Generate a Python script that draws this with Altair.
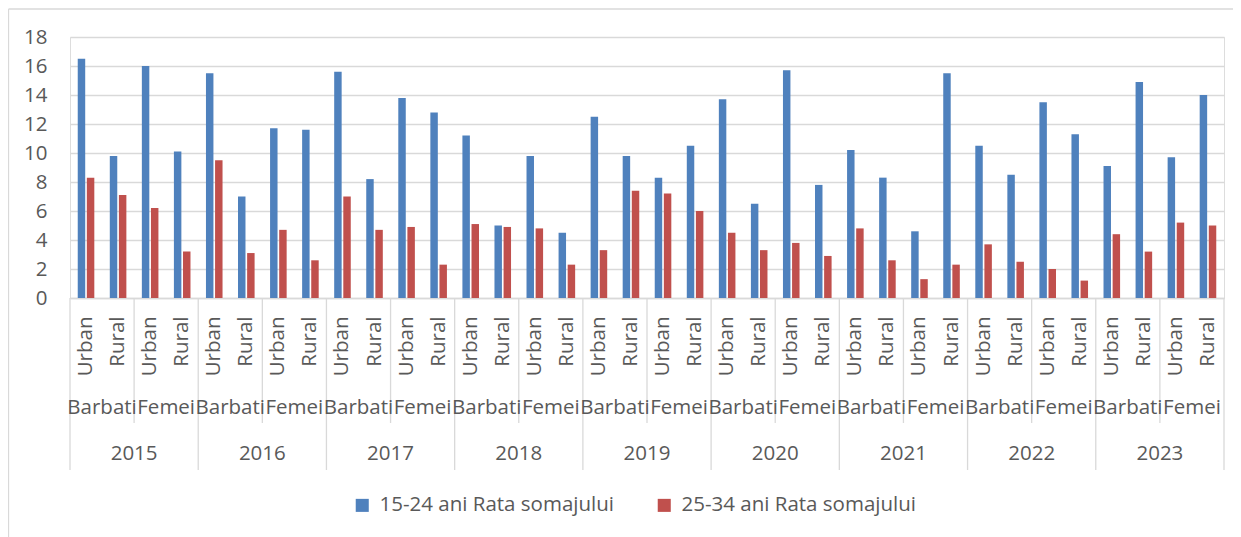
import altair as alt
import pandas as pd

years = ["2015", "2016", "2017", "2018", "2019", "2020", "2021", "2022", "2023"]
genders = ["Barbati", "Femei"]
areas = ["Urban", "Rural"]
series_names = ["15-24 ani Rata somajului", "25-34 ani Rata somajului"]

# order: year -> gender -> area
rate_15_24 = [
    16.5, 9.8, 16.0, 10.1,
    15.5, 7.0, 11.7, 11.6,
    15.6, 8.2, 13.8, 12.8,
    11.2, 5.0, 9.8, 4.5,
    12.5, 9.8, 8.3, 10.5,
    13.7, 6.5, 15.7, 7.8,
    10.2, 8.3, 4.6, 15.5,
    10.5, 8.5, 13.5, 11.3,
    9.1, 14.9, 9.7, 14.0,
]
rate_25_34 = [
    8.3, 7.1, 6.2, 3.2,
    9.5, 3.1, 4.7, 2.6,
    7.0, 4.7, 4.9, 2.3,
    5.1, 4.9, 4.8, 2.3,
    3.3, 7.4, 7.2, 6.0,
    4.5, 3.3, 3.8, 2.9,
    4.8, 2.6, 1.3, 2.3,
    3.7, 2.5, 2.0, 1.2,
    4.4, 3.2, 5.2, 5.0,
]

keys = []
for y in years:
    for g in genders:
        for a in areas:
            keys.append(f"{y}|{g}|{a}")

rows = []
for i, k in enumerate(keys):
    rows.append({"key": k, "serie": series_names[0], "val": rate_15_24[i]})
    rows.append({"key": k, "serie": series_names[1], "val": rate_25_34[i]})
df = pd.DataFrame(rows)

gender_df = pd.DataFrame([{"key": f"{y}|{g}|Urban", "txt": g} for y in years for g in genders])
year_df = pd.DataFrame([{"key": f"{y}|Barbati|Rural", "txt": y} for y in years])
gsep_df = pd.DataFrame([{"key": f"{y}|Femei|Urban"} for y in years])
ysep_df = pd.DataFrame([{"key": f"{y}|Barbati|Urban"} for y in years])
yend_df = pd.DataFrame([{"key": f"{years[-1]}|Femei|Rural"}])

FONT = "Open Sans"
TXT = "#595959"
GRID = "#d9d9d9"
FS = 20.5

xscale = alt.Scale(domain=keys, paddingInner=0, paddingOuter=0)

bars = alt.Chart(df).mark_bar().encode(
    x=alt.X("key:N", scale=xscale, sort=keys, title=None,
            axis=alt.Axis(labelAngle=270, labelExpr="split(datum.label, '|')[2]",
                          ticks=False, labelPadding=18, domainColor=GRID, domainWidth=1.3,
                          labelFontSize=FS, labelColor=TXT, labelFont=FONT, grid=False)),
    xOffset=alt.XOffset("serie:N", sort=series_names,
                        scale=alt.Scale(paddingInner=0.18, paddingOuter=0.85)),
    y=alt.Y("val:Q", scale=alt.Scale(domain=[0, 18]), title=None,
            axis=alt.Axis(values=list(range(0, 19, 2)), ticks=False, domain=False,
                          labelPadding=23, gridColor=GRID, gridWidth=1.3,
                          labelFontSize=FS, labelColor=TXT, labelFont=FONT)),
    color=alt.Color("serie:N", sort=series_names,
                    scale=alt.Scale(domain=series_names, range=["#4F81BD", "#C0504D"]),
                    legend=alt.Legend(title=None, orient="none", direction="horizontal",
                                      legendX=282, legendY=458, symbolType="square",
                                      symbolSize=170, symbolStrokeWidth=0, labelOffset=7,
                                      columnPadding=40, labelLimit=0, labelFontSize=FS,
                                      labelColor=TXT, labelFont=FONT)),
)

gender_txt = alt.Chart(gender_df).mark_text(fontSize=FS, color=TXT, font=FONT, baseline="middle").encode(
    x=alt.X("key:N", scale=xscale, sort=keys, bandPosition=1),
    y=alt.value(371),
    text="txt:N",
)
year_txt = alt.Chart(year_df).mark_text(fontSize=FS, color=TXT, font=FONT, baseline="middle").encode(
    x=alt.X("key:N", scale=xscale, sort=keys, bandPosition=1),
    y=alt.value(417),
    text="txt:N",
)
gsep = alt.Chart(gsep_df).mark_rule(color=GRID, strokeWidth=1.3).encode(
    x=alt.X("key:N", scale=xscale, sort=keys, bandPosition=0),
    y=alt.value(261), y2=alt.value(386),
)
ysep = alt.Chart(ysep_df).mark_rule(color=GRID, strokeWidth=1.3).encode(
    x=alt.X("key:N", scale=xscale, sort=keys, bandPosition=0),
    y=alt.value(261), y2=alt.value(433),
)
yend = alt.Chart(yend_df).mark_rule(color=GRID, strokeWidth=1.3).encode(
    x=alt.X("key:N", scale=xscale, sort=keys, bandPosition=1),
    y=alt.value(261), y2=alt.value(433),
)
frame_left = alt.Chart(yend_df).mark_rule(color=GRID, strokeWidth=1.3).encode(
    x=alt.value(-61.5), y=alt.value(-28), y2=alt.value(510),
)
frame_top = alt.Chart(yend_df).mark_rule(color=GRID, strokeWidth=1.3).encode(
    x=alt.value(-61.5), x2=alt.value(1175), y=alt.value(-28),
)

chart = alt.layer(frame_left, frame_top, gsep, ysep, yend, bars, gender_txt, year_txt).properties(
    width=1154, height=261,
    autosize=alt.AutoSizeParams(type="none"),
    padding={"left": 62, "top": 29, "right": 9, "bottom": 241},
).configure_view(stroke=None).configure(background="white")

chart.save("out.html", embed_options={"renderer": "svg", "actions": False})
